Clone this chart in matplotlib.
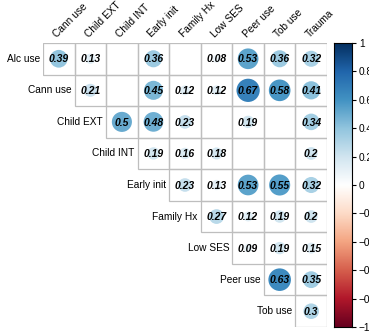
import numpy as np
import matplotlib
matplotlib.use("Agg")
import matplotlib.pyplot as plt
from matplotlib.colors import LinearSegmentedColormap, Normalize
from matplotlib.patches import Rectangle, Circle

plt.rcParams['font.family'] = ['Liberation Sans', 'DejaVu Sans']

row_names = ['Alc use', 'Cann use', 'Child EXT', 'Child INT', 'Early init',
             'Family Hx', 'Low SES', 'Peer use', 'Tob use']
col_names = ['Cann use', 'Child EXT', 'Child INT', 'Early init', 'Family Hx',
             'Low SES', 'Peer use', 'Tob use', 'Trauma']

# upper triangle, one list per row starting at the diagonal; None = not significant
alc_use = [0.39, 0.13, None, 0.36, None, 0.08, 0.53, 0.36, 0.32]
cann_use = [0.21, None, 0.45, 0.12, 0.12, 0.67, 0.58, 0.41]
child_ext = [0.5, 0.48, 0.23, None, 0.19, None, 0.34]
child_int = [0.19, 0.16, 0.18, None, None, 0.2]
early_init = [0.23, 0.13, 0.53, 0.55, 0.32]
family_hx = [0.27, 0.12, 0.19, 0.2]
low_ses = [0.09, 0.19, 0.15]
peer_use = [0.63, 0.35]
tob_use = [0.3]
rows = [alc_use, cann_use, child_ext, child_int, early_init,
        family_hx, low_ses, peer_use, tob_use]

cbar_ticks = [1, 0.8, 0.6, 0.4, 0.2, 0, -0.2, -0.4, -0.6, -0.8, -1]

cmap = LinearSegmentedColormap.from_list('rdbu', [
    '#67001F', '#B2182B', '#D6604D', '#F4A582', '#FDDBC7', '#FFFFFF',
    '#D1E5F0', '#92C5DE', '#4393C3', '#2166AC', '#053061'], N=200)
norm = Normalize(-1, 1)

W, H = 369, 333
fig = plt.figure(figsize=(W / 100, H / 100), dpi=100)
ax = fig.add_axes([43 / W, 6 / H, 284 / W, 284 / H])
ax.set_xlim(0, 9)
ax.set_ylim(9, 0)
ax.axis('off')

for i, vals in enumerate(rows):
    for k, r in enumerate(vals):
        j = i + k
        ax.add_patch(Rectangle((j, i), 1, 1, fill=False, edgecolor='#BEBEBE',
                               lw=0.9, zorder=1))
        if r is None:
            continue
        rad = 0.45 * np.sqrt(abs(r))
        ax.add_patch(Circle((j + 0.5, i + 0.5), rad, facecolor=cmap(norm(r)),
                            edgecolor='none', zorder=2))
        ax.text(j + 0.5, i + 0.52, f'{r:g}', ha='center', va='center',
                fontsize=7.5, fontweight='bold', fontstyle='italic', zorder=3)
    ax.text(i - 0.1, i + 0.5, row_names[i], ha='right', va='center', fontsize=7.3)

for j, name in enumerate(col_names):
    ax.text(j + 0.5, -0.12, name, rotation=45, rotation_mode='anchor',
            ha='left', va='bottom', fontsize=7.3)

# colour legend
cax = fig.add_axes([334 / W, 6 / H, 18 / W, 284 / H])
grad = np.linspace(-1, 1, 200).reshape(-1, 1)
cax.imshow(grad, cmap=cmap, norm=norm, aspect='auto', origin='lower',
           extent=[0, 1, -1, 1])
cax.set_xticks([])
cax.yaxis.tick_right()
cax.set_yticks(cbar_ticks)
cax.set_yticklabels([f'{t:g}'.replace('-', '\u2212') for t in cbar_ticks])
cax.tick_params(axis='y', length=3, width=0.8, pad=2, labelsize=7.3)
for s in cax.spines.values():
    s.set_linewidth(0.8)

fig.savefig('out.png', dpi=100)
